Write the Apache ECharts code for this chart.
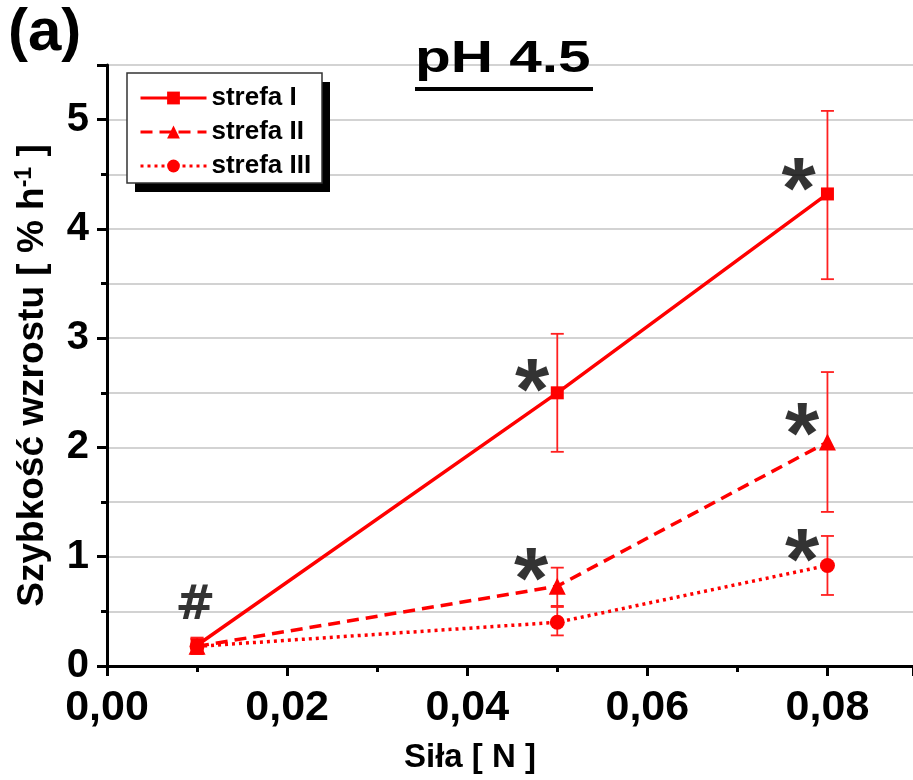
<!DOCTYPE html>
<html>
<head>
<meta charset="utf-8">
<script src="https://cdn.jsdelivr.net/npm/echarts@6/dist/echarts.min.js"></script>
<style>html,body{margin:0;padding:0;background:#fff}#c{width:913px;height:780px}</style>
</head>
<body>
<div id="c"></div>
<script>
// ---- data ----
var forces = [0.01, 0.05, 0.08];
var seriesNames = ['strefa I', 'strefa II', 'strefa III'];
var zoneI   = [0.19, 2.50, 4.32];
var zoneII  = [0.18, 0.73, 2.05];
var zoneIII = [0.18, 0.40, 0.92];
var zoneI_low   = [0.12, 1.96, 3.54];
var zoneI_high  = [0.26, 3.04, 5.08];
var zoneII_low  = [0.11, 0.55, 1.41];
var zoneII_high = [0.25, 0.90, 2.69];
var zoneIII_low  = [0.11, 0.28, 0.65];
var zoneIII_high = [0.25, 0.54, 1.19];
var xTicks = [0.00, 0.02, 0.04, 0.06, 0.08];
var yTicks = [0, 1, 2, 3, 4, 5];
// significance markers: [x, y]
var stars = [[0.0472, 2.48], [0.0768, 4.32], [0.0772, 2.08], [0.0471, 0.75], [0.0772, 0.93]];
var hashes = [[0.0098, 0.54]];

var RED = '#ff0000';
function pairs(ys){ return forces.map(function(x,i){ return [x, ys[i]]; }); }
function errData(lo, hi){ return forces.map(function(x,i){ return [x, lo[i], hi[i]]; }); }

function errSeries(lo, hi, z){
  return {
    type: 'custom',
    data: errData(lo, hi),
    z: z,
    silent: true,
    renderItem: function(params, api){
      var x = api.value(0);
      var p1 = api.coord([x, api.value(1)]);
      var p2 = api.coord([x, api.value(2)]);
      var w = 6.5;
      var st = {stroke: '#ff2020', lineWidth: 1.8};
      return {type: 'group', children: [
        {type: 'line', shape: {x1: p1[0], y1: p1[1], x2: p2[0], y2: p2[1]}, style: st},
        {type: 'line', shape: {x1: p1[0]-w, y1: p1[1], x2: p1[0]+w, y2: p1[1]}, style: st},
        {type: 'line', shape: {x1: p2[0]-w, y1: p2[1], x2: p2[0]+w, y2: p2[1]}, style: st}
      ]};
    }
  };
}

var chart = echarts.init(document.getElementById('c'));
var bold = 'bold';
var FF = '"Liberation Sans", Arial, sans-serif';

chart.setOption({
  backgroundColor: '#fff',
  animation: false,
  textStyle: {fontFamily: FF},
  grid: {left: 107, right: 0, top: 65, bottom: 114},
  graphic: [
    {type: 'text', left: 8, top: 3, z: 1, style: {text: '(a)', font: 'bold 60px ' + FF, fill: '#000'}},
    {type: 'text', x: 415, y: 38, scaleX: 1.33, z: 1, style: {text: 'pH 4.5', font: 'bold 44px ' + FF, fill: '#000'}},
    {type: 'rect', shape: {x: 415, y: 87, width: 178, height: 4}, z: 1, style: {fill: '#000'}},
    {type: 'rect', shape: {x: 135, y: 82, width: 195, height: 110}, z: 1, style: {fill: '#000'}},
    {type: 'rect', shape: {x: 127, y: 73, width: 195, height: 110}, z: 2, style: {fill: '#fff', stroke: '#333', lineWidth: 1.5}}
  ],
  legend: {
    data: seriesNames,
    orient: 'vertical',
    left: 127, top: 73,
    z: 10,
    padding: [12, 8, 12, 12],
    itemGap: 8,
    itemWidth: 66, itemHeight: 16,
    lineStyle: {width: 3},
    textStyle: {fontSize: 26, fontWeight: bold, color: '#000', fontFamily: FF}
  },
  xAxis: {
    type: 'value', min: 0, max: 0.0895, interval: 0.02,
    name: 'Siła [ N ]', nameLocation: 'middle', nameGap: 75,
    nameTextStyle: {fontSize: 33, fontWeight: bold, color: '#000', fontFamily: FF, padding: [0, 80, 0, 0]},
    axisLine: {show: true, lineStyle: {color: '#000', width: 3}},
    axisTick: {show: true, length: 10, lineStyle: {color: '#000', width: 3}},
    minorTick: {show: true, splitNumber: 2, length: 6, lineStyle: {color: '#000', width: 3}},
    splitLine: {show: false},
    axisLabel: {
      fontSize: 43, fontWeight: bold, color: '#000', margin: 21, fontFamily: FF,
      showMaxLabel: false,
      formatter: function(v){ return v.toFixed(2).replace('.', ','); }
    }
  },
  yAxis: {
    type: 'value', min: 0, max: 5.5, interval: 1,
    name: '{a|Szybkość wzrostu [ % h}{s|-1}{a| ]}', nameLocation: 'middle', nameGap: 55,
    nameTextStyle: {
      fontSize: 37, fontWeight: bold, color: '#000', fontFamily: FF, padding: [0, 20, 0, 0],
      rich: {
        a: {fontSize: 37, fontWeight: bold, color: '#000', fontFamily: FF},
        s: {fontSize: 23, fontWeight: bold, color: '#000', fontFamily: FF, verticalAlign: 'top', padding: [0,0,16,0]}
      }
    },
    axisLine: {show: true, lineStyle: {color: '#000', width: 3}},
    axisTick: {show: true, length: 10, lineStyle: {color: '#000', width: 3}},
    minorTick: {show: true, splitNumber: 2, length: 6, lineStyle: {color: '#000', width: 3}},
    splitLine: {show: true, lineStyle: {color: '#c4c4c4', width: 1.5}},
    minorSplitLine: {show: true, lineStyle: {color: '#c4c4c4', width: 1.5}},
    axisLabel: {
      fontSize: 40, fontWeight: bold, color: '#000', margin: 18, fontFamily: FF,
      showMaxLabel: false,
      formatter: function(v){ return yTicks.indexOf(v) >= 0 ? String(v) : ''; }
    }
  },
  series: [
    errSeries(zoneIII_low, zoneIII_high, 2),
    errSeries(zoneII_low, zoneII_high, 2),
    errSeries(zoneI_low, zoneI_high, 2),
    {
      name: seriesNames[2], type: 'line', data: pairs(zoneIII), z: 3,
      symbol: 'circle', symbolSize: 15,
      lineStyle: {color: RED, width: 3.5, type: [3, 4]},
      itemStyle: {color: RED}
    },
    {
      name: seriesNames[1], type: 'line', data: pairs(zoneII), z: 4,
      symbol: 'triangle', symbolSize: 17,
      lineStyle: {color: RED, width: 3.5, type: [12, 7]},
      itemStyle: {color: RED}
    },
    {
      name: seriesNames[0], type: 'line', data: pairs(zoneI), z: 5,
      symbol: 'rect', symbolSize: 13,
      lineStyle: {color: RED, width: 3.5, type: 'solid'},
      itemStyle: {color: RED}
    },
    {
      type: 'scatter', data: stars, symbolSize: 0, silent: true, z: 6,
      label: {show: true, position: 'inside', formatter: '*', fontSize: 88, fontWeight: bold, color: '#000', fontFamily: FF}
    },
    {
      type: 'scatter', data: hashes, symbolSize: 0, silent: true, z: 6,
      label: {show: true, position: 'inside', formatter: '#', fontSize: 48, fontWeight: 900, color: '#000', fontFamily: '"DejaVu Sans", ' + FF}
    }
  ]
});
</script>
</body>
</html>
